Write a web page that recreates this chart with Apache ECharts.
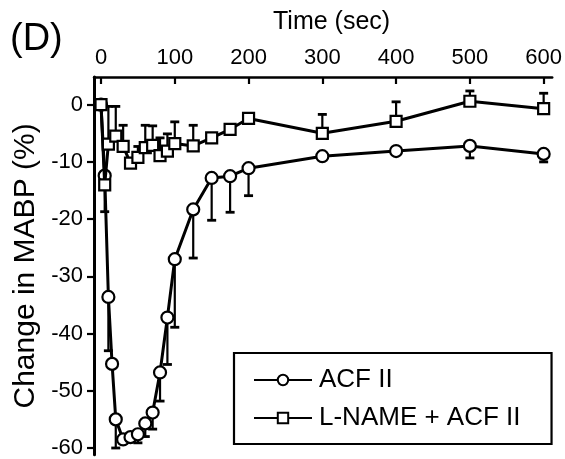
<!DOCTYPE html>
<html>
<head>
<meta charset="utf-8">
<script src="https://cdn.jsdelivr.net/npm/echarts@6/dist/echarts.min.js"></script>
<style>
  html, body { margin: 0; padding: 0; background: #fff; }
  #chart { width: 565px; height: 459px; }
</style>
</head>
<body>
<div id="chart"></div>
<script>
// Change in mean arterial blood pressure after ACF II, with and without L-NAME
const timesAcf   = [0, 5, 10, 15, 20, 30, 40, 50, 60, 70, 80, 90, 100, 125, 150, 175, 200, 300, 400, 500, 600];
const acfMean    = [0, -12.4, -33.6, -45.3, -55, -58.5, -58.1, -57.6, -55.7, -53.8, -46.8, -37.2, -27, -18.3, -12.8, -12.5, -11.1, -9.0, -8.1, -7.2, -8.6];
const acfErr     = [null, 6.3, 9.4, null, 5, null, null, 1.5, 2.3, 2.9, 5, 8.2, 11.9, 8.5, 7.4, 6.3, 4.8, 0.6, null, 2.1, 1.4];

const timesLname = [0, 5, 10, 20, 30, 40, 50, 60, 70, 80, 90, 100, 125, 150, 175, 200, 300, 400, 500, 600];
const lnameMean  = [0, -14, -6.9, -5.5, -7.3, -10.2, -9.2, -7.5, -7.1, -8.9, -8.1, -6.8, -7.2, -5.8, -4.3, -2.4, -5.0, -2.9, 0.6, -0.7];
const lnameErr   = [null, null, 6.6, 5.2, 3.7, null, 1.9, 3.9, 3.4, 3.1, 3.0, 3.8, 3.6, null, null, 0.8, 3.3, 3.4, 1.8, 2.7];

const xTicks = [0, 100, 200, 300, 400, 500, 600];
const yTicks = [0, -10, -20, -30, -40, -50, -60];

const FONT = '"Liberation Sans", Arial, Helvetica, sans-serif';

function pairs(times, vals) {
  return times.map((t, i) => [t, vals[i]]);
}

// One-sided SEM bars: dir = -1 draws downward, +1 upward
function errorBars(name, times, means, errs, dir) {
  const data = [];
  times.forEach((t, i) => {
    if (errs[i] != null) data.push([t, means[i], means[i] + dir * errs[i]]);
  });
  return {
    type: 'custom',
    name: name,
    silent: true,
    z: 1,
    encode: { x: 0, y: [1, 2] },
    renderItem: function (params, api) {
      const t = api.value(0);
      const p0 = api.coord([t, api.value(1)]);
      const p1 = api.coord([t, api.value(2)]);
      const cap = 4.5;
      return {
        type: 'group',
        children: [
          { type: 'line', shape: { x1: p0[0], y1: p0[1], x2: p1[0], y2: p1[1] },
            style: { stroke: '#000', lineWidth: 2.2 } },
          { type: 'line', shape: { x1: p1[0] - cap, y1: p1[1], x2: p1[0] + cap, y2: p1[1] },
            style: { stroke: '#000', lineWidth: 2.8 } }
        ]
      };
    },
    data: data
  };
}

const chart = echarts.init(document.getElementById('chart'), null, { renderer: 'canvas' });

chart.setOption({
  animation: false,
  backgroundColor: '#fff',
  title: [
    { text: '(D)', left: 5, top: 16,
      textStyle: { fontFamily: FONT, fontSize: 38, fontWeight: 'normal', color: '#000' } },
    { text: 'Time (sec)', left: 268, top: 5,
      textStyle: { fontFamily: FONT, fontSize: 25, fontWeight: 'normal', color: '#000' } }
  ],
  grid: { left: 94, right: 12, top: 77, bottom: 0, containLabel: false },
  xAxis: {
    type: 'value',
    position: 'top',
    min: -9.5,
    max: 611.6,
    axisLine: { show: true, onZero: false, lineStyle: { color: '#000', width: 2.5 } },
    axisTick: { show: true, inside: true, length: 7, customValues: xTicks,
                lineStyle: { color: '#000', width: 2.2 } },
    axisLabel: { show: true, customValues: xTicks, margin: 8,
                 fontFamily: FONT, fontSize: 22, color: '#000' },
    splitLine: { show: false }
  },
  yAxis: {
    type: 'value',
    min: -61.2,
    max: 4.84,
    name: 'Change in MABP (%)',
    nameLocation: 'middle',
    nameGap: 52,
    nameTextStyle: { fontFamily: FONT, fontSize: 30, color: '#000' },
    axisLine: { show: true, onZero: false, lineStyle: { color: '#000', width: 3 } },
    axisTick: { show: true, inside: false, length: 7, customValues: yTicks,
                lineStyle: { color: '#000', width: 2.2 } },
    axisLabel: { show: true, customValues: yTicks, margin: 11,
                 fontFamily: FONT, fontSize: 22, color: '#000' },
    splitLine: { show: false }
  },
  legend: {
    data: ['ACF II', 'L-NAME + ACF II'],
    orient: 'vertical',
    left: 234,
    top: 353,
    padding: [14, 31, 13, 19],
    itemGap: 12,
    itemWidth: 58,
    itemHeight: 13,
    borderColor: '#000',
    borderWidth: 2.2,
    borderRadius: 0,
    textStyle: { fontFamily: FONT, fontSize: 26, color: '#000', padding: [0, 0, 0, 2] }
  },
  series: [
    errorBars('acf-sem', timesAcf, acfMean, acfErr, -1),
    errorBars('lname-sem', timesLname, lnameMean, lnameErr, 1),
    {
      name: 'ACF II',
      type: 'line',
      z: 3,
      data: pairs(timesAcf, acfMean),
      symbol: 'circle',
      symbolSize: 12,
      showAllSymbol: true,
      lineStyle: { color: '#000', width: 3 },
      itemStyle: { color: '#fff', borderColor: '#000', borderWidth: 2.2 }
    },
    {
      name: 'L-NAME + ACF II',
      type: 'line',
      z: 4,
      data: pairs(timesLname, lnameMean),
      symbol: 'rect',
      symbolSize: 11,
      showAllSymbol: true,
      lineStyle: { color: '#000', width: 3 },
      itemStyle: { color: '#fff', borderColor: '#000', borderWidth: 2.2 }
    }
  ]
});
</script>
</body>
</html>
